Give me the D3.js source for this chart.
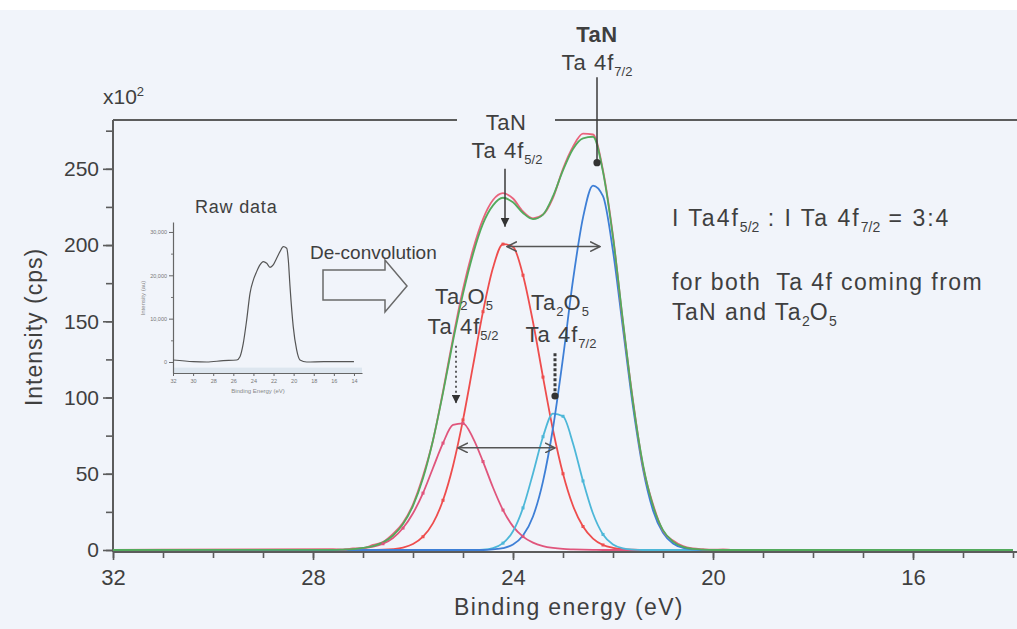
<!DOCTYPE html>
<html>
<head>
<meta charset="utf-8">
<script src="https://cdn.jsdelivr.net/npm/d3@7"></script>
<style>
  html, body { margin: 0; padding: 0; background: #ffffff; }
  svg { display: block; font-family: "Liberation Sans", Arial, Helvetica, sans-serif; }
</style>
</head>
<body>
<svg id="chart" width="1017" height="629"></svg>
<script>
// ---- Ta 4f XPS spectrum of a TaN film (intensity in units of 10^2 cps) ----

// binding-energy grid of the fitted components (eV)
const energy = [27.6, 27.4, 27.2, 27.0, 26.8, 26.6, 26.4, 26.2, 26.0, 25.8, 25.6, 25.4, 25.2, 25.0,
  24.8, 24.6, 24.4, 24.2, 24.0, 23.8, 23.6, 23.4, 23.2, 23.0, 22.8, 22.6, 22.4, 22.2, 22.0,
  21.8, 21.6, 21.4, 21.2, 21.0, 20.8, 20.6, 20.4, 20.2, 20.0, 19.8, 19.6];

// Ta2O5 Ta 4f5/2 component
const ta2o5_4f52 = [0.1, 0.3, 0.6, 1.2, 2.2, 4.1, 7.9, 14.4, 24.1, 37.3, 53.8, 70.1, 82.0, 83.1,
  73.4, 58.0, 41.0, 26.2, 15.5, 8.8, 4.8, 2.6, 1.4, 0.7, 0.4, 0.2, 0.1, 0, 0,
  0, 0, 0, 0, 0, 0, 0, 0, 0, 0, 0, 0];
// TaN Ta 4f5/2 component
const tan_4f52 = [0, 0, 0, 0, 0.1, 0.2, 0.6, 1.6, 3.9, 8.7, 17.6, 32.6, 55.1, 85.3,
  120.7, 156.3, 185.1, 200.6, 198.8, 180.2, 149.5, 113.4, 78.7, 50.0, 29.0, 15.4, 7.5, 3.3, 1.4,
  0.5, 0.2, 0.1, 0, 0, 0, 0, 0, 0, 0, 0, 0];
// Ta2O5 Ta 4f7/2 component
const ta2o5_4f72 = [0, 0, 0, 0, 0, 0, 0, 0, 0, 0, 0, 0, 0, 0,
  0.1, 0.3, 1.3, 4.5, 12.3, 27.6, 50.2, 74.3, 89.5, 87.7, 69.9, 45.3, 23.9, 10.2, 3.6,
  1.0, 0.2, 0, 0, 0, 0, 0, 0, 0, 0, 0, 0];
// TaN Ta 4f7/2 component
const tan_4f72 = [0, 0, 0, 0, 0, 0, 0, 0, 0, 0, 0, 0, 0, 0,
  0, 0, 0.4, 1.2, 3.6, 9.5, 22, 45, 80, 126, 177, 218, 239, 232, 196,
  145, 94, 53, 26, 11.3, 4.3, 1.4, 0.4, 0.1, 0, 0, 0];
// fitted envelope
const fitEnvelope = [0.1, 0.3, 0.6, 1.4, 2.6, 5, 9.5, 17, 29, 47, 72, 103, 137, 168,
  194, 214, 226, 231, 228, 221, 217, 220, 232, 249, 263, 270, 271, 248, 205,
  150, 97, 56, 29, 13, 5.5, 2, 0.7, 0.2, 0, 0, 0];
// measured counts
const measured = [0.6, 0.2, 1.0, 1.2, 3.3, 5.2, 10.5, 17.8, 30, 48.5, 72, 104, 139, 171,
  197, 217, 229.5, 234, 230.5, 222, 217.5, 220, 231, 250, 264.5, 273, 272.5, 249, 206,
  149, 98, 55, 30, 12.5, 6.2, 2.5, 1.0, 0.5, 0.2, 0.4, 0];

// zero-count ends of the scanned window (eV)
const scanEnds = [32, 14];

// axis ticks
const xTicksMajor = [32, 28, 24, 20, 16];
const xTicksMinor = [32, 31, 30, 29, 28, 27, 26, 25, 24, 23, 22, 21, 20, 19, 18, 17, 16, 15, 14];
const yTicksMajor = [0, 50, 100, 150, 200, 250];
const yTicksMinor = [0, 25, 50, 75, 100, 125, 150, 175, 200, 225, 250, 275];

// raw survey shown in the inset
const insetEnergy = [31.97, 29.98, 28.65, 27.0, 25.67, 25.34, 25.01, 24.67, 24.34, 24.01, 23.68, 23.35,
  23.02, 22.68, 22.35, 22.03, 21.69, 21.36, 21.03, 20.69, 20.53, 20.36, 20.04, 19.70, 19.37,
  18.70, 17.0, 15.5, 14.0];
const insetCounts = [460, 80, 0, 300, 460, 1230, 4300, 9700, 15850, 18900, 20850, 22400,
  23150, 22770, 21850, 22400, 23930, 25460, 26600, 26230, 23540, 17380, 8150, 2770, 460,
  0, 80, 80, 100];
const insetXTicks = [32, 30, 28, 26, 24, 22, 20, 18, 16, 14];
const insetYTicks = [0, 10000, 20000, 30000];
const insetYMinor = [5000, 15000, 25000];

// ---------------------------------------------------------------------------
const W = 1017, H = 629;
const TEXT = '#3f3f3f';
const AXIS = '#5c5c5c';
const FONT = '"Liberation Sans", Arial, Helvetica, sans-serif';

const svg = d3.select('#chart');

svg.append('rect').attr('width', W).attr('height', H).attr('fill', '#ffffff');
svg.append('rect').attr('y', 10).attr('width', W).attr('height', H - 10).attr('fill', '#f1f4fa');

const x = d3.scaleLinear().domain([32, 13.92]).range([113, 1017]);
const y = d3.scaleLinear().domain([0, 282]).range([550, 120]);
const axisY = y(0) + 2;

// markers
const defs = svg.append('defs');
defs.append('marker').attr('id', 'tri').attr('viewBox', '0 0 10 10')
  .attr('refX', 10).attr('refY', 5).attr('markerWidth', 9).attr('markerHeight', 9)
  .attr('markerUnits', 'userSpaceOnUse').attr('orient', 'auto')
  .append('path').attr('d', 'M0,0 L10,5 L0,10 Z').attr('fill', '#333');
defs.append('marker').attr('id', 'chev').attr('viewBox', '0 0 10 10')
  .attr('refX', 9).attr('refY', 5).attr('markerWidth', 11).attr('markerHeight', 11)
  .attr('markerUnits', 'userSpaceOnUse').attr('orient', 'auto-start-reverse')
  .append('path').attr('d', 'M0,0.5 L9,5 L0,9.5').attr('fill', 'none')
  .attr('stroke', '#555').attr('stroke-width', 1.4);
defs.append('marker').attr('id', 'blob').attr('viewBox', '0 0 10 10')
  .attr('refX', 5).attr('refY', 5).attr('markerWidth', 8).attr('markerHeight', 8)
  .attr('markerUnits', 'userSpaceOnUse')
  .append('circle').attr('cx', 5).attr('cy', 5).attr('r', 4.5).attr('fill', '#333');

// text helper with sub/superscripts
function label(parent, px, py, parts, opt = {}) {
  const size = opt.size || 23;
  const t = parent.append('text')
    .attr('x', px).attr('y', py)
    .attr('text-anchor', opt.anchor || 'middle')
    .attr('font-size', size)
    .attr('font-weight', opt.weight || 'normal')
    .attr('letter-spacing', opt.spacing === undefined ? 1 : opt.spacing)
    .attr('fill', opt.fill || TEXT);
  let shift = 0;
  parts.forEach(p => {
    const [str, kind] = Array.isArray(p) ? p : [p, 'n'];
    const target = kind === 'sub' ? Math.round(size * 0.28) : kind === 'sup' ? -Math.round(size * 0.38) : 0;
    t.append('tspan')
      .attr('dy', target - shift)
      .attr('font-size', kind === 'n' ? size : Math.round(size * 0.6))
      .attr('letter-spacing', kind === 'n' ? null : 0)
      .text(str);
    shift = target;
  });
  return t;
}

// ---- axes ----
function styleAxis(g, fontSize) {
  g.attr('font-family', FONT);
  g.select('.domain').remove();
  g.selectAll('line').attr('stroke', AXIS).attr('stroke-width', 1.6);
  g.selectAll('text').attr('font-size', fontSize).attr('fill', TEXT);
}

svg.append('g').attr('transform', `translate(${x(32)},0)`)
  .call(d3.axisLeft(y).tickValues(yTicksMinor).tickSize(7).tickFormat(''))
  .call(g => styleAxis(g, 21));
svg.append('g').attr('transform', `translate(${x(32)},0)`)
  .call(d3.axisLeft(y).tickValues(yTicksMajor).tickSize(10).tickPadding(4))
  .call(g => styleAxis(g, 21));

svg.append('g').attr('transform', `translate(0,${axisY})`)
  .call(d3.axisBottom(x).tickValues(xTicksMinor).tickSize(6).tickFormat(''))
  .call(g => styleAxis(g, 22));
svg.append('g').attr('transform', `translate(0,${axisY})`)
  .call(d3.axisBottom(x).tickValues(xTicksMajor).tickSize(8).tickPadding(9))
  .call(g => styleAxis(g, 22));

// frame: left and bottom axis lines, top border broken by the TaN label
const frame = svg.append('g').attr('stroke', AXIS).attr('stroke-width', 2).attr('fill', 'none');
frame.append('line').attr('x1', x(32)).attr('x2', x(32)).attr('y1', y(282)).attr('y2', axisY);
frame.append('line').attr('x1', x(32)).attr('x2', W).attr('y1', axisY).attr('y2', axisY);
frame.append('line').attr('x1', x(32)).attr('x2', 457).attr('y1', y(282)).attr('y2', y(282));
frame.append('line').attr('x1', 555).attr('x2', W).attr('y1', y(282)).attr('y2', y(282));

// axis titles
label(svg, 103, 104, ['x10', ['2', 'sup']], { size: 21, anchor: 'start', spacing: 0 });
label(svg, 0, 0, ['Intensity (cps)'], { size: 23, spacing: 1 })
  .attr('transform', 'translate(42,327) rotate(-90)');
label(svg, 569, 615, ['Binding energy (eV)'], { size: 23, spacing: 1.4 });

// ---- spectra ----
const line = d3.line().x(d => x(d[0])).y(d => y(d[1])).curve(d3.curveMonotoneX);
function withEnds(values) {
  return [[scanEnds[0], 0], ...energy.map((e, i) => [e, values[i]]), [scanEnds[1], 0]];
}
const series = [
  { v: tan_4f52, c: '#ee4d4d', dots: true },
  { v: ta2o5_4f52, c: '#e0557c', dots: true },
  { v: ta2o5_4f72, c: '#4db7d8', dots: true },
  { v: tan_4f72, c: '#3e7fd6', dots: false },
  { v: measured, c: '#e9637c', dots: false },
  { v: fitEnvelope, c: '#53aa5c', dots: false }
];
const spectra = svg.append('g');
spectra.selectAll('path').data(series).join('path')
  .attr('d', s => line(withEnds(s.v)))
  .attr('fill', 'none')
  .attr('stroke', s => s.c)
  .attr('stroke-width', 1.8)
  .attr('stroke-linejoin', 'round');

// small point symbols along the fitted components
series.filter(s => s.dots).forEach(s => {
  spectra.append('g').selectAll('rect')
    .data(energy.map((e, i) => [e, s.v[i]]).filter((d, i) => i % 2 === 1 && d[1] > 3))
    .join('rect')
    .attr('x', d => x(d[0]) - 1.5).attr('y', d => y(d[1]) - 1.5)
    .attr('width', 3).attr('height', 3)
    .attr('fill', s.c);
});

// ---- peak annotations ----
const ann = svg.append('g').attr('stroke', '#3a3a3a').attr('fill', 'none');
// TaN 4f7/2
ann.append('line').attr('x1', x(22.32)).attr('x2', x(22.32)).attr('y1', y(310)).attr('y2', y(254))
  .attr('stroke-width', 1.5).attr('marker-end', 'url(#blob)');
// TaN 4f5/2
ann.append('line').attr('x1', x(24.16)).attr('x2', x(24.16)).attr('y1', y(250)).attr('y2', y(212))
  .attr('stroke-width', 1.5).attr('marker-end', 'url(#tri)');
// Ta2O5 4f5/2 (dotted)
ann.append('line').attr('x1', x(25.14)).attr('x2', x(25.14)).attr('y1', y(134)).attr('y2', y(96))
  .attr('stroke-width', 1.6).attr('stroke-dasharray', '2,3').attr('marker-end', 'url(#tri)');
// Ta2O5 4f7/2 (dashed)
ann.append('line').attr('x1', x(23.16)).attr('x2', x(23.16)).attr('y1', y(129)).attr('y2', y(101))
  .attr('stroke-width', 3).attr('stroke-dasharray', '3,2').attr('marker-end', 'url(#blob)');
// spin-orbit splitting arrows
ann.append('line').attr('x1', x(24.12)).attr('x2', x(22.26)).attr('y1', y(199)).attr('y2', y(199))
  .attr('stroke', '#555').attr('stroke-width', 1.5)
  .attr('marker-start', 'url(#chev)').attr('marker-end', 'url(#chev)');
ann.append('line').attr('x1', x(25.1)).attr('x2', x(23.16)).attr('y1', y(67)).attr('y2', y(67))
  .attr('stroke', '#555').attr('stroke-width', 1.5)
  .attr('marker-start', 'url(#chev)').attr('marker-end', 'url(#chev)');

// peak labels
label(svg, 597, 42, ['TaN'], { size: 22, weight: 'bold', spacing: 0.5 });
label(svg, 597, 70, ['Ta 4f', ['7/2', 'sub']], { size: 22 });
label(svg, 506, 130, ['TaN'], { size: 22, spacing: 0.5 });
label(svg, 507, 158, ['Ta 4f', ['5/2', 'sub']], { size: 22 });
label(svg, 464, 304, ['Ta', ['2', 'sub'], 'O', ['5', 'sub']], { size: 22 });
label(svg, 463, 334, ['Ta 4f', ['5/2', 'sub']], { size: 22 });
label(svg, 560, 310, ['Ta', ['2', 'sub'], 'O', ['5', 'sub']], { size: 22 });
label(svg, 561, 342, ['Ta 4f', ['7/2', 'sub']], { size: 22 });

// intensity-ratio note
label(svg, 672, 226, ['I Ta4f', ['5/2', 'sub'], ' : I Ta 4f', ['7/2', 'sub'], ' = 3:4'],
  { size: 23, anchor: 'start', spacing: 2 });
label(svg, 672, 290, ['for both\u00a0 Ta 4f coming from'], { size: 23, anchor: 'start', spacing: 1.4 });
label(svg, 672, 320, ['TaN and Ta', ['2', 'sub'], 'O', ['5', 'sub']], { size: 23, anchor: 'start', spacing: 1.4 });

// ---- inset: raw spectrum ----
const inset = svg.append('g');
const xIn = d3.scaleLinear().domain([32, 13.2]).range([173, 362]);
const yIn = d3.scaleLinear().domain([-2540, 32300]).range([373, 222]);

inset.append('rect').attr('x', xIn(32)).attr('width', xIn(13.2) - xIn(32))
  .attr('y', yIn(-1300)).attr('height', yIn(-2540) - yIn(-1300)).attr('fill', '#dde6ef');

function styleInset(g) {
  g.attr('font-family', FONT);
  g.select('.domain').attr('stroke', '#666').attr('stroke-width', 1.2);
  g.selectAll('line').attr('stroke', '#666');
  g.selectAll('text').attr('font-size', 5.5).attr('fill', '#777');
}
inset.append('g').attr('transform', `translate(${xIn(32)},0)`)
  .call(d3.axisLeft(yIn).tickValues(insetYTicks).tickSize(4).tickPadding(2).tickSizeOuter(0))
  .call(styleInset);
inset.append('g').attr('transform', `translate(${xIn(32)},0)`)
  .call(d3.axisLeft(yIn).tickValues(insetYMinor).tickSize(2).tickFormat('').tickSizeOuter(0))
  .call(g => { g.select('.domain').remove(); g.selectAll('line').attr('stroke', '#777'); });
inset.append('g').attr('transform', `translate(0,${yIn(-2540)})`)
  .call(d3.axisBottom(xIn).tickValues(insetXTicks).tickSize(3).tickPadding(3).tickSizeOuter(0))
  .call(styleInset);

inset.append('path')
  .datum(insetEnergy.map((e, i) => [e, insetCounts[i]]))
  .attr('d', d3.line().x(d => xIn(d[0])).y(d => yIn(d[1])).curve(d3.curveMonotoneX))
  .attr('fill', 'none').attr('stroke', '#555').attr('stroke-width', 1.2);

label(inset, 258, 393, ['Binding Energy (eV)'], { size: 6, spacing: 0, fill: '#888' });
label(inset, 0, 0, ['Intensity (au)'], { size: 6, spacing: 0, fill: '#888' })
  .attr('transform', 'translate(145,298) rotate(-90)');
label(svg, 195, 213, ['Raw data'], { size: 18, anchor: 'start', spacing: 0.8 });

// ---- de-convolution arrow ----
svg.append('path')
  .attr('d', 'M323,270 L385,270 L385,260 L407,286 L385,312 L385,300 L323,300 Z')
  .attr('fill', 'none').attr('stroke', '#6a6a6a').attr('stroke-width', 1.5)
  .attr('stroke-linejoin', 'miter');
label(svg, 310, 259, ['De-convolution'], { size: 19, anchor: 'start', spacing: 0 });
</script>
</body>
</html>
